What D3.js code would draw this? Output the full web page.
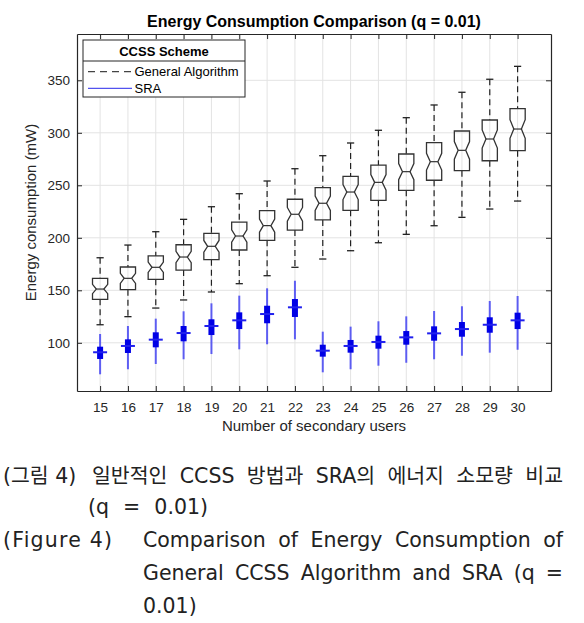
<!DOCTYPE html>
<html><head><meta charset="utf-8">
<script src="https://cdn.jsdelivr.net/npm/d3@7"></script>
<style>html,body{margin:0;padding:0;background:#fff;}svg{display:block;}</style>
</head><body>
<script>
const users = [15,16,17,18,19,20,21,22,23,24,25,26,27,28,29,30];
// General Algorithm (black notched boxes)
const genHigh = [181.0,193.1,205.8,217.6,229.6,242.0,254.1,265.8,278.2,290.3,302.4,314.4,326.5,338.6,351.0,363.3];
const genQ3   = [161.4,172.2,182.7,193.4,204.3,215.0,225.8,236.7,247.7,258.6,269.3,279.8,290.6,301.7,312.2,323.0];
const genMed  = [151.2,161.4,171.9,181.7,191.9,201.7,211.6,222.4,232.9,243.6,252.8,263.0,272.5,283.3,294.1,303.6];
const genQ1   = [141.4,150.6,160.5,169.3,179.2,188.4,197.6,207.4,217.0,226.2,235.7,245.2,254.8,263.9,273.4,283.0];
const genLow  = [117.2,124.9,133.1,140.8,148.4,156.3,163.9,171.9,179.8,187.7,195.3,203.3,211.5,219.5,227.4,235.0];
// SRA (blue compact boxes)
const sraHigh = [108.4,116.0,123.0,130.0,137.6,144.9,151.9,159.1,110.6,115.4,120.5,125.2,130.3,134.8,139.8,144.6];
const sraQ3   = [96.3,103.3,110.0,116.0,122.4,129.0,135.3,141.7,98.2,102.7,106.8,111.2,115.7,119.8,124.3,128.7];
const sraMed  = [91.0,97.0,103.0,109.3,116.0,121.4,127.4,133.8,92.5,97.0,100.8,105.2,109.0,113.1,117.2,121.4];
const sraQ1   = [84.6,90.3,95.7,101.4,107.4,113.1,118.6,124.6,86.8,90.6,94.4,98.2,102.0,105.8,109.6,113.1];
const sraLow  = [70.0,74.8,79.8,84.3,89.3,93.8,98.6,103.3,71.9,74.8,78.2,81.0,84.3,87.7,90.6,93.4];
const sampleN = 50;
const yTicks = [100,150,200,250,300,350];
const titleText = "Energy Consumption Comparison (q = 0.01)";
const xLabel = "Number of secondary users";
const yLabel = "Energy consumption (mW)";
const legendTitle = "CCSS Scheme";
const seriesNames = ["General Algorithm","SRA"];

const W = 584, H = 623;
const svg = d3.select("body").append("svg").attr("width", W).attr("height", H);
const L = 77, R = 551, T = 34, B = 391;
const x = d3.scaleLinear().domain([14.17, 31.2]).range([L, R]);
const y = d3.scaleLinear().domain([54.1, 394.1]).range([B, T]);
const font = "Liberation Sans, Arial, Helvetica, sans-serif";
const axisCol = "#262626";

// grid
const g = svg.append("g");
g.selectAll(".vg").data(users).enter().append("line")
  .attr("x1", d => x(d)).attr("x2", d => x(d)).attr("y1", T).attr("y2", B)
  .attr("stroke", "#e3e3e3").attr("stroke-width", 1);
g.selectAll(".hg").data(yTicks).enter().append("line")
  .attr("x1", L).attr("x2", R).attr("y1", d => y(d)).attr("y2", d => y(d))
  .attr("stroke", "#e3e3e3").attr("stroke-width", 1);

// axes
const xAxis = d3.axisBottom(x).tickValues(users).tickSizeInner(-5).tickSizeOuter(0).tickPadding(11);
const gx = svg.append("g").attr("transform", `translate(0,${B})`).call(xAxis);
const yAxis = d3.axisLeft(y).tickValues(yTicks).tickSizeInner(-5).tickSizeOuter(0).tickPadding(7);
const gy = svg.append("g").attr("transform", `translate(${L},0)`).call(yAxis);
const xTop = d3.axisTop(x).tickValues(users).tickSizeInner(-5).tickSizeOuter(0).tickFormat("");
const gxt = svg.append("g").attr("transform", `translate(0,${T})`).call(xTop);
const yRight = d3.axisRight(y).tickValues(yTicks).tickSizeInner(-5).tickSizeOuter(0).tickFormat("");
const gyr = svg.append("g").attr("transform", `translate(${R},0)`).call(yRight);
[gx, gy, gxt, gyr].forEach(a => {
  a.select(".domain").attr("stroke", axisCol).attr("stroke-width", 1.2);
  a.selectAll(".tick line").attr("stroke", axisCol).attr("stroke-width", 1);
  a.selectAll(".tick text").attr("fill", axisCol).style("font-family", font).style("font-size", "13.5px");
});

// General Algorithm boxes
const hw = 7.6, capHw = 3.6;
const gen = users.map((u, i) => ({u, hi: genHigh[i], q3: genQ3[i], med: genMed[i], q1: genQ1[i], lo: genLow[i]}));
const gg = svg.append("g");
gen.forEach(d => {
  const cx = x(d.u);
  const notch = 1.57 * (d.q3 - d.q1) / Math.sqrt(sampleN);
  gg.append("line").attr("x1", cx).attr("x2", cx).attr("y1", y(d.hi)).attr("y2", y(d.q3))
    .attr("stroke", "#222").attr("stroke-width", 1.2).attr("stroke-dasharray", "6,4");
  gg.append("line").attr("x1", cx).attr("x2", cx).attr("y1", y(d.q1)).attr("y2", y(d.lo))
    .attr("stroke", "#222").attr("stroke-width", 1.2).attr("stroke-dasharray", "6,4");
  [d.hi, d.lo].forEach(v => gg.append("line").attr("x1", cx - capHw).attr("x2", cx + capHw)
    .attr("y1", y(v)).attr("y2", y(v)).attr("stroke", "#222").attr("stroke-width", 1.3));
  const pts = [
    [cx - hw, y(d.q3)], [cx + hw, y(d.q3)], [cx + hw, y(d.med + notch)], [cx + hw / 2, y(d.med)],
    [cx + hw, y(d.med - notch)], [cx + hw, y(d.q1)], [cx - hw, y(d.q1)], [cx - hw, y(d.med - notch)],
    [cx - hw / 2, y(d.med)], [cx - hw, y(d.med + notch)]
  ];
  gg.append("path").attr("d", d3.line()(pts) + "Z").attr("fill", "none")
    .attr("stroke", "#333").attr("stroke-width", 1.3);
  gg.append("line").attr("x1", cx - hw / 2).attr("x2", cx + hw / 2).attr("y1", y(d.med)).attr("y2", y(d.med))
    .attr("stroke", "#333").attr("stroke-width", 1.2);
});

// SRA compact boxes
const sra = users.map((u, i) => ({u, hi: sraHigh[i], q3: sraQ3[i], med: sraMed[i], q1: sraQ1[i], lo: sraLow[i]}));
const sg = svg.append("g");
sra.forEach(d => {
  const cx = x(d.u);
  sg.append("line").attr("x1", cx).attr("x2", cx).attr("y1", y(d.hi)).attr("y2", y(d.lo))
    .attr("stroke", "#3a3af2").attr("stroke-opacity", 0.8).attr("stroke-width", 2);
  sg.append("rect").attr("x", cx - 3).attr("width", 6).attr("y", y(d.q3)).attr("height", y(d.q1) - y(d.q3))
    .attr("fill", "#0000e6");
  sg.append("line").attr("x1", cx - 7).attr("x2", cx + 7).attr("y1", y(d.med)).attr("y2", y(d.med))
    .attr("stroke", "#2020ee").attr("stroke-width", 2);
});

// title and labels
svg.append("text").attr("x", (L + R) / 2).attr("y", 27).attr("text-anchor", "middle")
  .style("font-family", font).style("font-size", "16px").style("font-weight", "bold").attr("fill", "#000").text(titleText);
svg.append("text").attr("x", (L + R) / 2).attr("y", 431).attr("text-anchor", "middle")
  .style("font-family", font).style("font-size", "15px").attr("fill", axisCol).text(xLabel);
svg.append("text").attr("transform", `translate(36,${(T + B) / 2}) rotate(-90)`).attr("text-anchor", "middle")
  .style("font-family", font).style("font-size", "15px").attr("fill", axisCol).text(yLabel);

// legend
const lg = svg.append("g");
lg.append("rect").attr("x", 83).attr("y", 40).attr("width", 162).attr("height", 57)
  .attr("fill", "#fff").attr("stroke", axisCol).attr("stroke-width", 1);
lg.append("line").attr("x1", 83).attr("x2", 245).attr("y1", 61).attr("y2", 61).attr("stroke", axisCol).attr("stroke-width", 1);
lg.append("text").attr("x", 164).attr("y", 56).attr("text-anchor", "middle")
  .style("font-family", font).style("font-size", "13px").style("font-weight", "bold").attr("fill", "#000").text(legendTitle);
lg.append("line").attr("x1", 88).attr("x2", 132).attr("y1", 71.7).attr("y2", 71.7)
  .attr("stroke", "#444").attr("stroke-width", 1.2).attr("stroke-dasharray", "7,5");
lg.append("line").attr("x1", 88).attr("x2", 132).attr("y1", 88.3).attr("y2", 88.3)
  .attr("stroke", "#5252ee").attr("stroke-width", 1.3);
lg.selectAll(".lt").data(seriesNames).enter().append("text")
  .attr("x", 134.5).attr("y", (d, i) => i === 0 ? 76.3 : 92.8)
  .style("font-family", font).style("font-size", "13px").attr("fill", "#000").text(d => d);

// caption (justified by adjusting word spacing at run time)
const cf = "'DejaVu Sans', 'Noto Sans CJK KR', sans-serif";
const cap = svg.append("g").style("font-family", cf).style("font-size", "20.5px").attr("fill", "#222");
const capLines = [
  {x: 3, y: 483, t: "(그림 4)"},
  {x: 92, y: 483, t: "일반적인 CCSS 방법과 SRA의 에너지 소모량 비교", end: 563},
  {x: 88, y: 514, t: "(q = 0.01)", end: 208},
  {x: 3, y: 547, t: "(Figure 4)", ls: 1.2},
  {x: 143, y: 547, t: "Comparison of Energy Consumption of", end: 563},
  {x: 143, y: 580, t: "General CCSS Algorithm and SRA (q =", end: 563},
  {x: 143, y: 613, t: "0.01)"}
];
capLines.forEach(c => {
  const t = cap.append("text").attr("x", c.x).attr("y", c.y).text(c.t);
  if (c.ls) t.style("letter-spacing", c.ls + "px");
  if (c.end) {
    const target = c.end - c.x;
    const n = t.node().getComputedTextLength();
    const spaces = (c.t.match(/ /g) || []).length;
    if (n < target && spaces) t.style("word-spacing", ((target - n) / spaces) + "px");
    else if (n > target) t.attr("textLength", target).attr("lengthAdjust", "spacingAndGlyphs");
  }
});
</script>
</body></html>
